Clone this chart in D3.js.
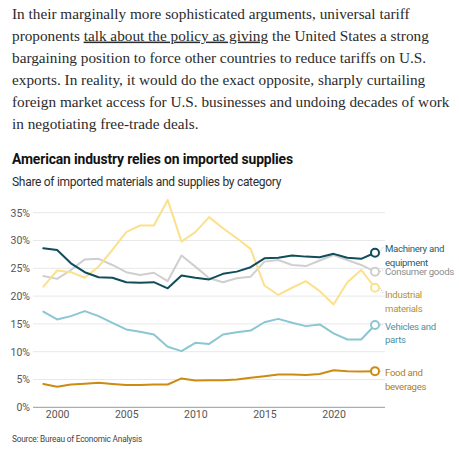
<!DOCTYPE html>
<html>
<head>
<meta charset="utf-8">
<script src="https://cdn.jsdelivr.net/npm/d3@7"></script>
<style>
  html, body { margin: 0; padding: 0; background: #fff; }
  svg { display: block; }
</style>
</head>
<body>
<svg id="chart" width="459" height="452"></svg>
<script>
// ---- data ----
const years = [1999,2000,2001,2002,2003,2004,2005,2006,2007,2008,2009,2010,2011,2012,2013,2014,2015,2016,2017,2018,2019,2020,2021,2022,2023];
const machinery = [28.6,28.3,25.9,24.3,23.4,23.3,22.5,22.4,22.5,21.4,23.7,23.3,23.0,24.0,24.4,25.2,26.8,26.9,27.3,27.1,27.0,27.6,26.9,26.7,27.8];
const consumer = [23.6,23.1,24.7,26.6,26.7,25.6,24.3,23.8,24.2,22.7,27.3,25.3,23.2,22.5,23.2,23.5,26.2,26.5,25.6,25.4,26.4,27.4,26.5,25.6,24.4];
const industrial = [21.7,24.6,24.3,23.3,25.3,28.3,31.5,32.7,32.7,37.3,29.8,31.5,34.2,32.2,30.4,28.5,21.9,20.2,21.5,22.7,20.9,18.5,22.5,24.7,21.5];
const vehicles = [17.2,15.8,16.4,17.3,16.4,15.2,14.0,13.6,13.1,10.9,10.1,11.6,11.4,13.1,13.5,13.8,15.3,15.9,15.2,14.6,14.9,13.3,12.2,12.2,14.8];
const food = [4.2,3.7,4.1,4.25,4.4,4.2,4.0,4.0,4.1,4.1,5.2,4.8,4.85,4.85,5.0,5.3,5.6,5.9,5.9,5.8,6.0,6.65,6.5,6.45,6.5];
const seriesNames = ["Machinery and equipment","Consumer goods","Industrial materials","Vehicles and parts","Food and beverages"];
const yTicks = [0,5,10,15,20,25,30,35];
const xTicks = [2000,2005,2010,2015,2020];
const paragraph = [
  [["In their marginally more sophisticated arguments, universal tariff", false]],
  [["proponents ", false], ["talk about the policy as giving", true], [" the United States a strong", false]],
  [["bargaining position to force other countries to reduce tariffs on U.S.", false]],
  [["exports. In reality, it would do the exact opposite, sharply curtailing", false]],
  [["foreign market access for U.S. businesses and undoing decades of work", false]],
  [["in negotiating free-trade deals.", false]]
];
const titleText = "American industry relies on imported supplies";
const subtitleText = "Share of imported materials and supplies by category";
const sourceText = "Source: Bureau of Economic Analysis";

// ---- styles ----
const seriesStyle = [
  {values: machinery, line: "#0f4d5a", text: "#1f5d6a", lines: ["Machinery and","equipment"], ly: [249, 262.5]},
  {values: consumer, line: "#cfcfcf", text: "#8c8c8c", lines: ["Consumer goods"], ly: [272]},
  {values: industrial, line: "#fbe18c", text: "#b39234", lines: ["Industrial","materials"], ly: [295, 308.5]},
  {values: vehicles, line: "#8ac7d3", text: "#4f8f9d", lines: ["Vehicles and","parts"], ly: [326.5, 340]},
  {values: food, line: "#cc8c12", text: "#b27d16", lines: ["Food and","beverages"], ly: [373, 386.5]}
];

const svg = d3.select("#chart");
const sans = "Roboto, 'Noto Sans', sans-serif";
const serif = "'Liberation Serif', 'DejaVu Serif', serif";

function fitWidth(sel, target) {
  let fs = parseFloat(sel.attr("font-size"));
  for (let k = 0; k < 4; k++) {
    const w = sel.node().getComputedTextLength();
    fs = fs * target / w;
    sel.attr("font-size", fs);
  }
  return fs;
}

// paragraph
const pSize = 16;
const pg = svg.append("g");
paragraph.forEach((parts, i) => {
  const t = pg.append("text")
    .attr("x", 12).attr("y", 18.5 + i * 22.1)
    .attr("font-family", serif).attr("font-size", pSize).attr("fill", "#2b2b2b");
  parts.forEach(([s, u]) => {
    const ts = t.append("tspan").text(s);
    if (u) ts.attr("text-decoration", "underline");
  });
});
{
  const first = pg.select("text");
  const w = first.node().getComputedTextLength();
  const fs = pSize * 398 / w;
  pg.selectAll("text").attr("font-size", fs);
}

// title, subtitle
const title = svg.append("text").attr("x", 12).attr("y", 164)
  .attr("font-family", sans).attr("font-weight", 700).attr("font-size", 14)
  .attr("letter-spacing", -0.15)
  .attr("fill", "#121212").text(titleText);
fitWidth(title, 281);
const sub = svg.append("text").attr("x", 12).attr("y", 186)
  .attr("font-family", sans).attr("font-size", 12.5)
  .attr("letter-spacing", -0.3)
  .attr("fill", "#2e2e2e").text(subtitleText);
fitWidth(sub, 269);

// scales
const x = d3.scaleLinear().domain([1999, 2023]).range([43.3, 375]);
const y = d3.scaleLinear().domain([0, 35]).range([407.3, 212.7]);

// gridlines
const grid = svg.append("g");
grid.selectAll("line").data(yTicks.filter(d => d > 0)).join("line")
  .attr("x1", 33).attr("x2", 385)
  .attr("y1", d => y(d)).attr("y2", d => y(d))
  .attr("stroke", "#e8e8e8").attr("stroke-width", 1);
svg.append("line").attr("x1", 33).attr("x2", 385).attr("y1", y(0)).attr("y2", y(0))
  .attr("stroke", "#999").attr("stroke-width", 1);

// y axis labels
const yAxis = d3.axisLeft(y).tickValues(yTicks).tickSize(0).tickPadding(0)
  .tickFormat(d => d + "%");
const yg = svg.append("g").attr("transform", "translate(30,0)").call(yAxis);
yg.select(".domain").remove();
yg.selectAll("text").attr("font-family", sans).attr("font-size", 10.5).attr("fill", "#555");

// x axis labels
const xAxis = d3.axisBottom(x).tickValues(xTicks).tickSize(0).tickPadding(0).tickFormat(d3.format("d"));
const xg = svg.append("g").attr("transform", "translate(0,411)").call(xAxis);
xg.select(".domain").remove();
xg.selectAll("text").attr("font-family", sans).attr("font-size", 10.5).attr("fill", "#555");

// lines
const line = d3.line().x((d, i) => x(years[i])).y(d => y(d));
const order = [1, 2, 3, 4, 0];
order.forEach(k => {
  const s = seriesStyle[k];
  svg.append("path").datum(s.values)
    .attr("d", line).attr("fill", "none")
    .attr("stroke", s.line).attr("stroke-width", 2)
    .attr("stroke-linejoin", "round").attr("stroke-linecap", "round");
});

// label font size fitted to "Consumer goods" width in reference
const labelLS = -0.3;
const probe = svg.append("text").attr("font-family", sans).attr("font-size", 10)
  .attr("letter-spacing", labelLS).text("Consumer goods");
const labelSize = fitWidth(probe, 69);
probe.remove();

seriesStyle.forEach((s, k) => {
  const last = s.values[s.values.length - 1];
  const cx = x(years[years.length - 1]), cy = y(last);
  svg.append("line")
    .attr("x1", cx + 5).attr("y1", cy)
    .attr("x2", 383).attr("y2", s.ly[0] - 2)
    .attr("stroke", "#aaa").attr("stroke-width", 0.8)
    .attr("stroke-dasharray", "1,1.5");
  svg.append("circle").attr("cx", cx).attr("cy", cy).attr("r", 4)
    .attr("fill", "#fff").attr("stroke", s.line).attr("stroke-width", 2);
  s.lines.forEach((t, j) => {
    svg.append("text").attr("x", 385).attr("y", s.ly[j]).attr("dy", "0.35em")
      .attr("font-family", sans).attr("font-size", labelSize)
      .attr("letter-spacing", labelLS).attr("fill", s.text)
      .text(t);
  });
});

// source
const src = svg.append("text").attr("x", 12).attr("y", 441.5)
  .attr("font-family", sans).attr("font-size", 8.5).attr("letter-spacing", -0.2)
  .attr("fill", "#444").text(sourceText);
fitWidth(src, 130);
</script>
</body>
</html>
